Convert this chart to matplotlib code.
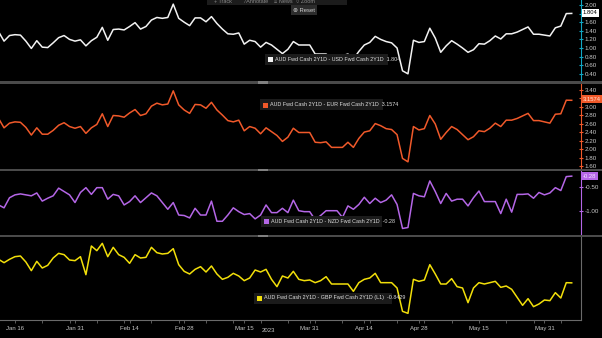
import numpy as np
import pandas as pd
import matplotlib
matplotlib.use("Agg")
import matplotlib.pyplot as plt
from matplotlib.patches import Rectangle

# шрифт + запасной для значков
plt.rcParams['font.family'] = ['Liberation Sans', 'DejaVu Sans']

# -------------------------------
# ДАННЫЕ (рабочие дни)
# -------------------------------
START_DATE = "2023-01-11"

USD_SPREAD = [
    1.38, 1.16, 1.29, 1.31, 1.30, 1.16, 0.99, 1.17, 1.02, 1.01,
    1.12, 1.24, 1.29, 1.20, 1.16, 1.19, 1.05, 1.17, 1.25, 1.48,
    1.18, 1.43, 1.44, 1.42, 1.50, 1.59, 1.44, 1.50, 1.65, 1.71,
    1.69, 1.71, 2.02, 1.69, 1.60, 1.52, 1.70, 1.70, 1.61, 1.73,
    1.57, 1.44, 1.33, 1.32, 1.35, 1.09, 1.18, 1.15, 1.02, 1.13,
    1.07, 0.97, 0.87, 0.97, 1.15, 1.07, 1.07, 1.07, 0.86, 0.86,
    0.86, 0.76, 0.78, 0.82, 0.86, 0.74, 0.92, 1.07, 1.13, 1.27,
    1.20, 1.15, 1.12, 1.00, 0.47, 0.40, 1.18, 1.13, 1.15, 1.46,
    1.23, 0.90, 1.05, 1.17, 1.09, 1.00, 0.90, 0.96, 1.10, 1.09,
    1.17, 1.28, 1.21, 1.33, 1.33, 1.37, 1.43, 1.49, 1.32, 1.32,
    1.30, 1.28, 1.47, 1.51, 1.80, 1.804,
]

EUR_SPREAD = [
    2.73, 2.51, 2.62, 2.65, 2.64, 2.52, 2.34, 2.51, 2.36, 2.36,
    2.45, 2.57, 2.63, 2.54, 2.50, 2.54, 2.38, 2.51, 2.59, 2.84,
    2.54, 2.80, 2.79, 2.76, 2.86, 2.94, 2.80, 2.84, 3.02, 3.09,
    3.05, 3.07, 3.38, 3.05, 2.93, 2.85, 3.06, 3.05, 2.97, 3.11,
    2.93, 2.81, 2.68, 2.65, 2.69, 2.44, 2.54, 2.50, 2.37, 2.51,
    2.42, 2.33, 2.19, 2.29, 2.50, 2.40, 2.40, 2.40, 2.17, 2.16,
    2.18, 2.05, 2.05, 2.05, 2.17, 2.05, 2.26, 2.41, 2.44, 2.61,
    2.56, 2.49, 2.47, 2.35, 1.79, 1.71, 2.54, 2.46, 2.49, 2.80,
    2.60, 2.24, 2.40, 2.54, 2.47, 2.35, 2.23, 2.30, 2.44, 2.42,
    2.50, 2.62, 2.54, 2.69, 2.69, 2.73, 2.79, 2.85, 2.68, 2.68,
    2.65, 2.62, 2.83, 2.84, 3.16, 3.1574,
]

NZD_SPREAD = [
    -0.88, -0.94, -0.73, -0.67, -0.65, -0.67, -0.69, -0.63, -0.80, -0.74,
    -0.69, -0.53, -0.60, -0.67, -0.83, -0.62, -0.52, -0.66, -0.52, -0.52,
    -0.76, -0.66, -0.69, -0.88, -0.81, -0.69, -0.83, -0.73, -0.63, -0.69,
    -0.83, -0.97, -0.83, -1.09, -1.10, -1.15, -0.95, -1.09, -1.09, -0.80,
    -1.22, -1.22, -1.09, -0.94, -1.02, -1.08, -1.06, -1.17, -1.09, -0.88,
    -1.04, -1.04, -0.95, -1.04, -0.78, -1.00, -1.02, -1.02, -1.19, -1.10,
    -1.00, -1.00, -1.00, -1.14, -0.90, -0.97, -0.87, -0.72, -0.85, -0.74,
    -0.83, -0.78, -0.67, -0.87, -1.37, -1.35, -0.64, -0.69, -0.71, -0.38,
    -0.60, -0.85, -0.64, -0.80, -0.76, -0.76, -0.90, -0.73, -0.59, -0.81,
    -0.81, -0.81, -1.06, -0.76, -1.03, -0.66, -0.66, -0.65, -0.74, -0.62,
    -0.67, -0.63, -0.52, -0.58, -0.29, -0.28,
]

GBP_SPREAD = [
    -0.49, -0.54, -0.49, -0.45, -0.44, -0.53, -0.66, -0.52, -0.62, -0.58,
    -0.47, -0.40, -0.42, -0.50, -0.51, -0.45, -0.72, -0.29, -0.36, -0.25,
    -0.45, -0.31, -0.42, -0.46, -0.55, -0.42, -0.47, -0.46, -0.31, -0.39,
    -0.41, -0.40, -0.33, -0.57, -0.67, -0.71, -0.64, -0.60, -0.68, -0.59,
    -0.71, -0.79, -0.76, -0.70, -0.74, -0.81, -0.77, -0.65, -0.68, -0.64,
    -0.79, -0.90, -0.74, -0.77, -0.67, -0.79, -0.81, -0.80, -0.84, -0.81,
    -0.75, -0.86, -0.86, -0.86, -0.86, -0.97, -0.84, -0.79, -0.77, -0.70,
    -0.84, -0.84, -0.84, -0.92, -1.27, -1.30, -0.79, -0.82, -0.80, -0.57,
    -0.71, -0.86, -0.86, -0.78, -0.90, -0.92, -1.14, -0.92, -0.84, -0.86,
    -0.84, -0.82, -0.91, -0.89, -0.94, -1.06, -1.18, -1.08, -1.20, -1.16,
    -1.10, -1.11, -0.99, -1.07, -0.84, -0.8429,
]

TICK_DATES = ["2023-01-16", "2023-01-31", "2023-02-14", "2023-02-28", "2023-03-15",
              "2023-03-31", "2023-04-14", "2023-04-28", "2023-05-15", "2023-05-31"]

# тики правой оси по панелям
USD_TICKS = [0.4, 0.6, 0.8, 1.0, 1.2, 1.4, 1.6, 1.8, 2.0]
EUR_TICKS = [1.6, 1.8, 2.0, 2.2, 2.4, 2.6, 2.8, 3.0, 3.2, 3.4]
NZD_TICKS = [-1.0, -0.5]
GBP_TICKS = []
# подписи, закрытые плашкой последнего значения
HIDDEN_TICKS = [[1.8], [3.2], [], []]

PANEL_LABELS = [
    "AUD Fwd Cash 2Y1D - USD Fwd Cash 2Y1D  1.804",
    "AUD Fwd Cash 2Y1D - EUR Fwd Cash 2Y1D  3.1574",
    "AUD Fwd Cash 2Y1D - NZD Fwd Cash 2Y1D  -0.28",
    "AUD Fwd Cash 2Y1D - GBP Fwd Cash 2Y1D (L1)  -0.8429",
]
LAST_VALUES = ["1.804", "3.1574", "-0.28", None]

W, H = 602, 338
BG = "black"
GRID_GREY = "#4a4a4a"
TEXT_GREY = "#c8c8c8"


def fx(px):
    return px / W


def fy(py):
    return 1 - py / H


dates = pd.bdate_range(START_DATE, periods=len(USD_SPREAD))
x = np.arange(len(dates))

fig = plt.figure(figsize=(W / 100, H / 100), dpi=100, facecolor=BG)

# (данные, цвет линии, цвет оси, верх px, низ px, ylim, yticks)
panels = [
    (USD_SPREAD, "#f2f2f2", "#12a7c4", 0, 81, (0.233, 2.116), USD_TICKS),
    (EUR_SPREAD, "#f0592a", "#f0592a", 84, 169, (1.541, 3.541), EUR_TICKS),
    (NZD_SPREAD, "#b466e6", "#b466e6", 171, 235, (-1.506, -0.173), NZD_TICKS),
    (GBP_SPREAD, "#f2df0a", "#6a6a6a", 237, 320, (-1.40, -0.155), GBP_TICKS),
]

axes = []
for (data, lc, sc, top, bot, ylim, yticks), hidden in zip(panels, HIDDEN_TICKS):
    ax = fig.add_axes([0, fy(bot), fx(581), (bot - top) / H])
    ax.set_facecolor(BG)
    ax.plot(x, data, color=lc, linewidth=1.1)
    ax.set_xlim(0.26, 106.7)
    ax.set_ylim(*ylim)
    for side in ["left", "top", "bottom"]:
        ax.spines[side].set_visible(False)
    ax.spines["right"].set_color(sc)
    ax.spines["right"].set_linewidth(0.8)
    ax.yaxis.tick_right()
    ax.set_yticks(yticks)
    ax.set_yticklabels(["" if v in hidden else f"{v:.2f}" for v in yticks])
    ax.tick_params(axis="y", colors=sc, labelcolor=TEXT_GREY, labelsize=4.5,
                   length=2.5, width=0.8, direction="inout", pad=1.5)
    ax.set_xticks([])
    axes.append(ax)

# нижняя ось дат
ax = axes[-1]
ax.spines["bottom"].set_visible(True)
ax.spines["bottom"].set_color("#6a6a6a")
tick_idx = [dates.get_loc(pd.Timestamp(d)) for d in TICK_DATES]
ax.set_xticks(tick_idx)
ax.set_xticklabels([dates[i].strftime("%b %d") for i in tick_idx])
mondays = [i for i, d in enumerate(dates) if d.weekday() == 0]
ax.set_xticks(mondays, minor=True)
ax.tick_params(axis="x", which="both", colors="#6a6a6a", labelcolor=TEXT_GREY,
               labelsize=4.3, length=2, width=0.6, pad=2)
fig.text(fx(268), fy(331), "2023", color=TEXT_GREY, fontsize=4.3, ha="center", va="center")

# разделители панелей
for y_sep in [82.5, 170, 236]:
    fig.add_artist(Rectangle((0, fy(y_sep + 1)), 1, 2 / H, transform=fig.transFigure,
                             facecolor=GRID_GREY, edgecolor="none"))
    fig.add_artist(Rectangle((fx(258), fy(y_sep + 1)), fx(10), 2 / H, transform=fig.transFigure,
                             facecolor="#808080", edgecolor="none"))

# подписи серий (как на скрине)
legend_pos = [(265, 388, 59.5), (260, 383, 105), (261, 382, 221.7), (254, 392, 298)]
for (x0, x1, yc), label, p in zip(legend_pos, PANEL_LABELS, panels):
    fig.add_artist(Rectangle((fx(x0), fy(yc + 5.5)), fx(x1 - x0), 11 / H, transform=fig.transFigure,
                             facecolor="#1b1b1b", edgecolor="none"))
    fig.add_artist(Rectangle((fx(x0 + 3), fy(yc + 2.5)), fx(5), 5 / H, transform=fig.transFigure,
                             facecolor=p[1], edgecolor="none"))
    fig.text(fx(x0 + 10), fy(yc), label, color="#e0e0e0", fontsize=3.9, ha="left", va="center")

# последние значения справа
value_pos = [(12.7, "white", "black"), (99.3, "#f0592a", "#ffe6d8"), (176, "#b466e6", "#f4e6ff")]
for (yc, fc, tc), val in zip(value_pos, LAST_VALUES):
    fig.text(fx(583), fy(yc), val, color=tc, fontsize=4.2, ha="left", va="center",
             bbox=dict(boxstyle="square,pad=0.25", facecolor=fc, edgecolor="none"))

# панель инструментов сверху
fig.add_artist(Rectangle((fx(207), fy(5)), fx(140), 5 / H, transform=fig.transFigure,
                         facecolor="#1c1c1c", edgecolor="none"))
for xp, t in [(214, "+ Track"), (244, "\u2215 Annotate"), (274, "\u2261 News"), (296, "\u25cb Zoom")]:
    fig.text(fx(xp), fy(1.5), t, color="#8a8a8a", fontsize=4.0, ha="left", va="center")
fig.text(fx(293), fy(10), "\u2297 Reset", color="#d0d0d0", fontsize=4.2, ha="left", va="center",
         bbox=dict(boxstyle="square,pad=0.35", facecolor="#2c2c2c", edgecolor="none"))

plt.savefig("out.png", dpi=100, facecolor=BG)
plt.close()
